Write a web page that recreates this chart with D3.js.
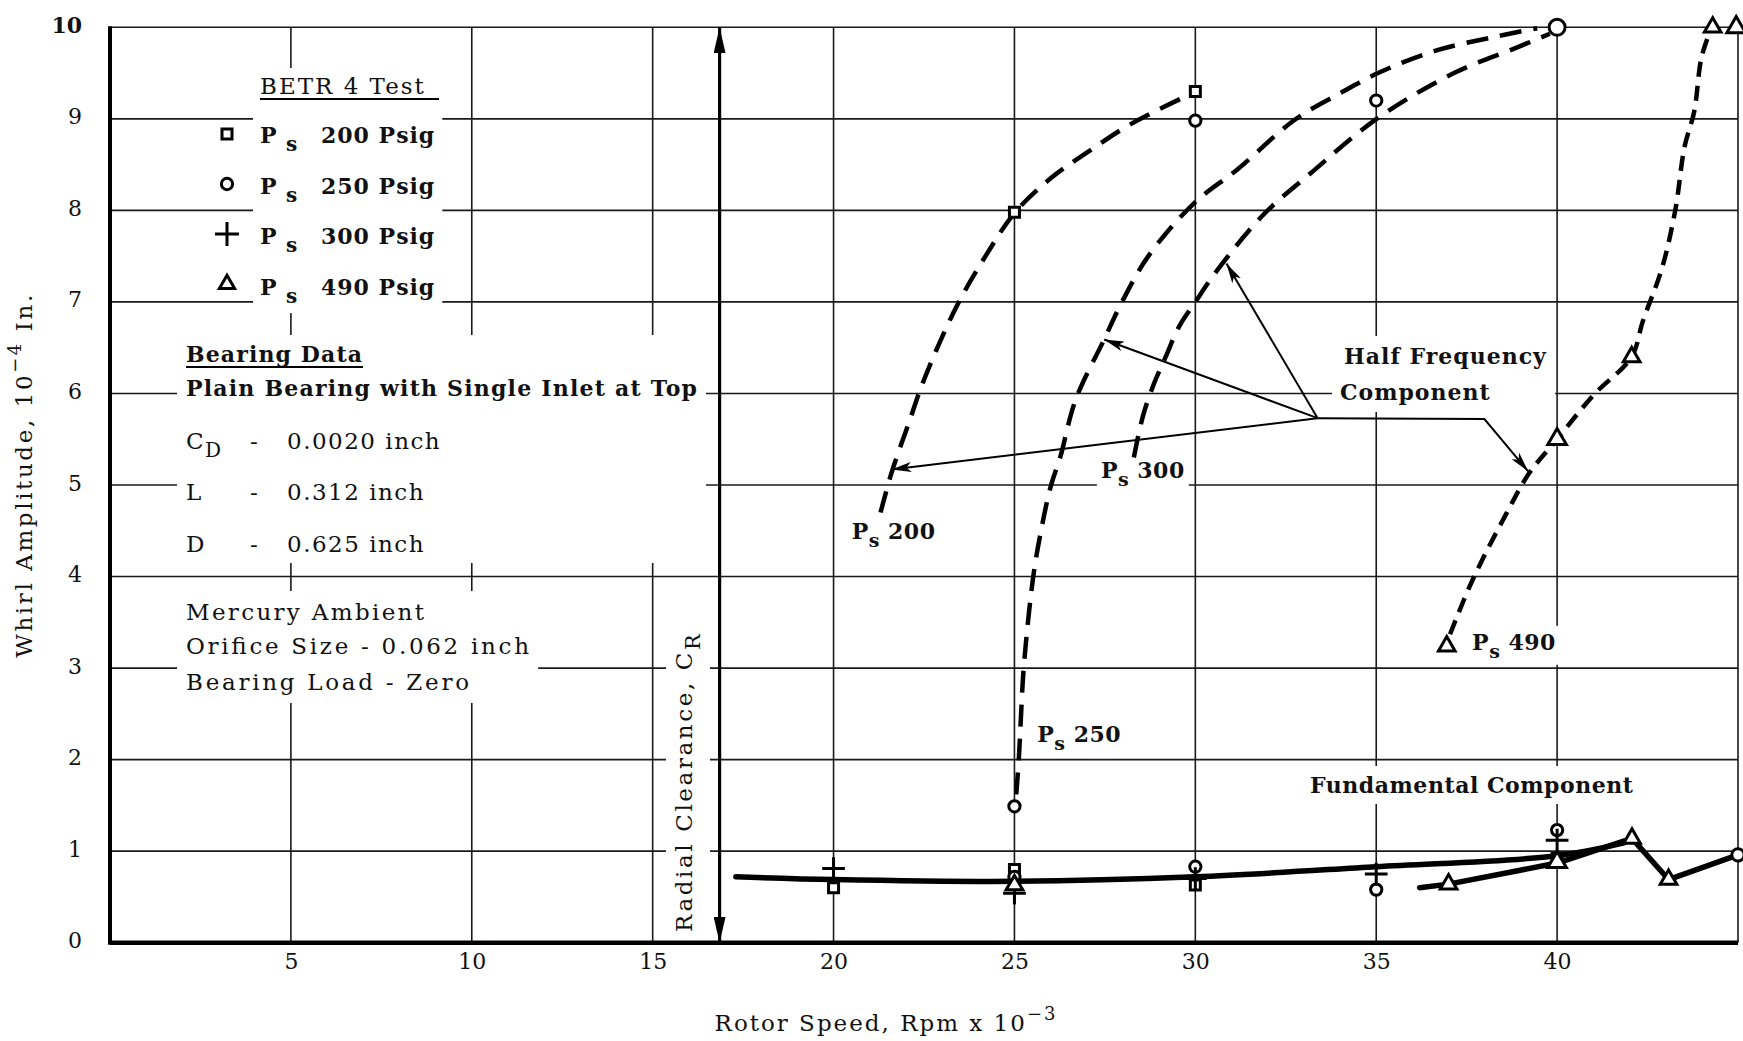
<html>
<head>
<meta charset="utf-8">
<title>Whirl Amplitude vs Rotor Speed</title>
<script src="https://d3js.org/d3.v7.min.js"></script>
<style>
body { margin: 0; background: #fff; }
.grid line { stroke: #1a1a1a; stroke-width: 1.6; }
.tick text { font-family: "DejaVu Serif", serif; font-size: 22px; fill: #111; }
.plain { font-family: "DejaVu Serif", serif; font-size: 23px; fill: #111; }
.wide { font-family: "DejaVu Serif", serif; font-size: 23px; fill: #111; letter-spacing: 2px; }
.wideb { font-family: "DejaVu Serif", serif; font-size: 22px; font-weight: bold; fill: #111; letter-spacing: 1px; }
.condb { font-family: "DejaVu Serif", serif; font-size: 22px; font-weight: bold; fill: #111; }
.half { fill: none; stroke: #000; stroke-width: 4.5; }
.fund { fill: none; stroke: #000; stroke-width: 5.5; stroke-linecap: round; }
.mark { fill: #fff; stroke: #000; stroke-width: 3; }
.note { fill: none; stroke: #000; stroke-width: 2; }
</style>
</head>
<body>
<script>
// ---- data (Rotor speed in rpm x 1e-3, whirl amplitude in 1e-4 in.) ----
var xTicks = [5, 10, 15, 20, 25, 30, 35, 40];
var yTicks = [0, 1, 2, 3, 4, 5, 6, 7, 8, 9, 10];
var gridX = [5, 10, 15, 20, 25, 30, 35, 40, 45];
var gridY = [1, 2, 3, 4, 5, 6, 7, 8, 9, 10];

// half frequency component curves
var ps200Half = [[21.3, 4.7], [21.6, 5.13], [22.1, 5.7], [22.5, 6.15], [23.4, 6.95], [24.2, 7.5], [25, 7.97],
  [26, 8.35], [27, 8.63], [28.2, 8.94], [29.6, 9.22]];
var ps250Half = [[25.05, 1.62], [25.12, 2.0], [25.18, 2.47], [25.26, 3.02], [25.52, 4.0], [25.74, 4.51], [26.0, 4.98],
  [26.27, 5.31], [26.69, 5.93], [27.48, 6.59], [27.96, 6.99], [28.7, 7.5], [29.97, 8.08], [31.17, 8.45],
  [32.75, 8.99], [34.0, 9.28], [35.05, 9.5], [36.6, 9.74], [38.2, 9.89], [39.45, 9.99]];
var ps300Half = [[28.3, 5.3], [28.55, 5.75], [28.85, 6.1], [29.18, 6.4], [29.55, 6.73], [30.0, 7.0], [30.65, 7.37],
  [31.9, 7.96], [33.17, 8.4], [35.05, 9.01], [37.15, 9.5], [38.83, 9.77], [39.8, 9.93]];
var ps490Half = [[37.04, 3.37], [37.66, 3.96], [38.6, 4.69], [39.23, 5.13], [40, 5.5], [41, 5.98], [42.06, 6.4],
  [42.37, 6.79], [42.9, 7.37], [43.27, 8.01], [43.52, 8.69], [43.79, 9.08], [43.99, 9.67], [44.25, 9.98]];

// fundamental component
var fundMain = [[17.3, 0.72], [20, 0.69], [25, 0.67], [30, 0.72], [35, 0.83], [40, 0.95], [41.85, 1.09]];
var fund490 = [[36.2, 0.6], [37, 0.64], [40, 0.87], [42.07, 1.14], [43.08, 0.69], [45, 0.96]];

// test points
var squarePts = [[20, 0.6], [25, 0.8], [30, 0.63], [40, 0.92], [25, 7.98], [30, 9.3]];
var circlePts = [[25, 0.72], [30, 0.83], [35, 0.58], [40, 1.23], [25, 1.49], [30, 8.98], [35, 9.2]];
var bigCirclePts = [[40, 10]];
var plusPts = [[20, 0.81], [25, 0.54], [30, 0.7], [35, 0.75], [40, 1.12]];
var trianglePts = [[25, 0.63], [37, 0.64], [42.07, 1.14], [43.08, 0.69], [36.95, 3.24], [42.06, 6.4], [44.3, 10.0]];
var filledTriPts = [[40, 5.5], [40, 0.88], [44.95, 10.0]];
var dotPts = [[45, 0.96]];

// radial clearance span and "Half Frequency Component" pointers
var clearance = [[16.85, 0], [16.85, 10]];
var hub = [33.38, 5.73];
var pointerTips = [[21.6, 5.17], [27.48, 6.59], [30.86, 7.42]];
var pointer490 = [[33.38, 5.73], [37.99, 5.72], [39.2, 5.15]];

var legendNames = ["200 Psig", "250 Psig", "300 Psig", "490 Psig"];
var legendSymbols = ["square", "circle", "plus", "triangle"];

// ---- layout ----
var W = 1743, H = 1041;
var x = d3.scaleLinear().domain([0, 45]).range([110, 1738]);
var y = d3.scaleLinear().domain([0, 10]).range([942.7, 27.3]);

var svg = d3.select("body").append("svg")
    .attr("width", W).attr("height", H);

var defs = svg.append("defs");
defs.append("marker").attr("id", "arr")
    .attr("viewBox", "0 0 20 10").attr("refX", 20).attr("refY", 5)
    .attr("markerWidth", 20).attr("markerHeight", 10)
    .attr("markerUnits", "userSpaceOnUse").attr("orient", "auto")
  .append("path").attr("d", "M0,0 L20,5 L0,10 L5,5 Z").attr("fill", "#000");
defs.append("marker").attr("id", "arrBig")
    .attr("viewBox", "0 0 26 12").attr("refX", 26).attr("refY", 6)
    .attr("markerWidth", 26).attr("markerHeight", 12)
    .attr("markerUnits", "userSpaceOnUse").attr("orient", "auto-start-reverse")
  .append("path").attr("d", "M0,0 L26,6 L0,12 Z").attr("fill", "#000");

// grid
var grid = svg.append("g").attr("class", "grid");
grid.selectAll(".gx").data(gridX).enter().append("line")
    .attr("x1", function(d) { return x(d); }).attr("x2", function(d) { return x(d); })
    .attr("y1", y(0)).attr("y2", y(10));
grid.selectAll(".gy").data(gridY).enter().append("line")
    .attr("x1", x(0)).attr("x2", x(45))
    .attr("y1", function(d) { return y(d); }).attr("y2", function(d) { return y(d); });

// text helpers
function rich(sel, px, py, parts, cls) {
  var t = sel.append("text").attr("x", px).attr("y", py).attr("class", cls);
  var shift = 0;
  parts.forEach(function(p) {
    var off = p.sub ? 8 : (p.sup ? -11 : 0);
    var ts = t.append("tspan").attr("dy", off - shift).text(p.t);
    if (p.size) ts.attr("font-size", p.size);
    if (p.x != null) ts.attr("x", p.x);
    shift = off;
  });
  return t;
}
function fit(sel, px, py, str, cls, len) {
  return sel.append("text").attr("class", cls).attr("x", px).attr("y", py)
      .attr("textLength", len).attr("lengthAdjust", "spacing").text(str);
}
function whiteBox(g, padX, padY) {
  var b = g.node().getBBox();
  g.insert("rect", ":first-child")
      .attr("x", b.x - padX).attr("y", b.y - padY)
      .attr("width", b.width + 2 * padX).attr("height", b.height + 2 * padY)
      .attr("fill", "#fff");
}

// legend block
var leg = svg.append("g");
var legText = leg.append("g");
legText.append("text").attr("class", "wide").attr("x", 260).attr("y", 94).text("BETR 4 Test");
legendNames.forEach(function(n, i) {
  var by = 143 + i * 50.7;
  rich(legText, 260, by, [{t: "P"}, {t: "s", sub: true, size: 20, x: 286}, {t: n, x: 321}], "wideb")
      .attr("font-size", 24);
});
whiteBox(legText, 7, 5);
legText.append("line").attr("x1", 260).attr("x2", 439).attr("y1", 99).attr("y2", 99)
    .attr("stroke", "#000").attr("stroke-width", 1.8);

// bearing data block
var bear = svg.append("g");
fit(bear, 186, 362, "Bearing Data", "condb", 176);
fit(bear, 186, 396, "Plain Bearing with Single Inlet at Top", "condb", 511);
rich(bear, 186, 449, [{t: "C"}, {t: "D", sub: true, size: 20}, {t: "-", x: 250}, {t: "0.0020 inch", x: 287}], "plain")
    .style("letter-spacing", "1.5px");
rich(bear, 186, 500, [{t: "L"}, {t: "-", x: 250}, {t: "0.312  inch", x: 287}], "plain")
    .style("letter-spacing", "1.5px");
rich(bear, 186, 552, [{t: "D"}, {t: "-", x: 250}, {t: "0.625 inch", x: 287}], "plain")
    .style("letter-spacing", "1.5px");
whiteBox(bear, 9, 6);
bear.append("line").attr("x1", 186).attr("x2", 363).attr("y1", 367).attr("y2", 367)
    .attr("stroke", "#000").attr("stroke-width", 1.8);

// conditions block
var cond = svg.append("g");
fit(cond, 186, 620, "Mercury Ambient", "plain", 238);
fit(cond, 186, 654, "Orifice Size - 0.062 inch", "plain", 343);
fit(cond, 186, 690, "Bearing Load - Zero", "plain", 283);
whiteBox(cond, 9, 8);

// in-plot labels
var halfLab = svg.append("g");
halfLab.append("text").attr("class", "wideb").attr("x", 1344).attr("y", 364).text("Half Frequency");
halfLab.append("text").attr("class", "wideb").attr("x", 1340).attr("y", 400).text("Component");
whiteBox(halfLab, 8, 7);

var fundLab = svg.append("g");
fit(fundLab, 1310, 793, "Fundamental Component", "condb", 323);
whiteBox(fundLab, 6, 6);

var curveLabels = [["200", 20.5, 4.41], ["300", 27.39, 5.08], ["250", 25.63, 2.19], ["490", 37.65, 3.2]];
curveLabels.forEach(function(c) {
  var g = svg.append("g");
  rich(g, x(c[1]), y(c[2]), [{t: "P"}, {t: "s", sub: true, size: 19}, {t: " " + c[0]}], "wideb")
      .attr("font-size", 21).style("letter-spacing", "0.5px");
  whiteBox(g, 4, 3);
});

var radial = svg.append("g");
rich(radial, 0, 0, [{t: "Radial  Clearance,  C"}, {t: "R", sub: true, size: 21}], "plain")
    .style("letter-spacing", "2.6px")
    .attr("transform", "translate(692,932) rotate(-90)");
whiteBox(radial, 5, 6);

// axes
svg.append("g").attr("transform", "translate(0," + y(0) + ")")
    .call(d3.axisBottom(x).tickValues(xTicks).tickSize(0).tickPadding(11).tickFormat(d3.format("d")))
    .call(function(g) { g.select(".domain").remove(); });
svg.append("g").attr("transform", "translate(" + x(0) + ",0)")
    .call(d3.axisLeft(y).tickValues(yTicks).tickSize(0).tickPadding(28).tickFormat(d3.format("d")))
    .call(function(g) {
      g.select(".domain").remove();
      g.selectAll("text").attr("y", -2)
          .attr("font-weight", function(d) { return d === 10 ? "bold" : null; });
    });
svg.append("line").attr("x1", x(0)).attr("x2", x(45)).attr("y1", y(0)).attr("y2", y(0))
    .attr("stroke", "#000").attr("stroke-width", 4.5);
svg.append("line").attr("x1", x(0)).attr("x2", x(0)).attr("y1", y(10) - 1).attr("y2", y(0) + 2)
    .attr("stroke", "#000").attr("stroke-width", 4);

// axis titles
rich(svg, 0, 0, [{t: "Whirl Amplitude,  10"}, {t: "\u22124", sup: true, size: 18}, {t: " In."}], "wide")
    .attr("text-anchor", "middle").attr("font-size", 22).style("letter-spacing", "2.6px")
    .attr("transform", "translate(32,475) rotate(-90)");
rich(svg, 886, 1031, [{t: "Rotor Speed,  Rpm x 10"}, {t: "\u22123", sup: true, size: 18}], "wide")
    .attr("text-anchor", "middle").attr("font-size", 22);

// radial clearance arrow
var line = d3.line().x(function(d) { return x(d[0]); }).y(function(d) { return y(d[1]); });
svg.append("path").datum(clearance).attr("d", line)
    .attr("stroke", "#000").attr("stroke-width", 3.2).attr("fill", "none")
    .attr("marker-start", "url(#arrBig)").attr("marker-end", "url(#arrBig)");

// curves
var curve = d3.line().curve(d3.curveCatmullRom.alpha(0.5))
    .x(function(d) { return x(d[0]); }).y(function(d) { return y(d[1]); });
[ps200Half, ps250Half, ps300Half].forEach(function(s) {
  svg.append("path").datum(s).attr("class", "half").attr("d", curve).attr("stroke-dasharray", "22,12");
});
svg.append("path").datum(ps490Half).attr("class", "half").attr("d", curve).attr("stroke-dasharray", "15,9");
svg.append("path").datum(fundMain).attr("class", "fund").attr("d", curve);
svg.append("path").datum(fund490).attr("class", "fund").attr("d", line).attr("stroke-linejoin", "round");

// pointers
pointerTips.forEach(function(t) {
  svg.append("path").datum([hub, t]).attr("class", "note").attr("d", line).attr("marker-end", "url(#arr)");
});
svg.append("path").datum(pointer490).attr("class", "note").attr("d", line).attr("marker-end", "url(#arr)");

// markers
var plusType = d3.symbolPlus || d3.symbolCross;
function markers(pts, type, size, cls, fill) {
  svg.append("g").selectAll("path").data(pts).enter().append("path")
      .attr("class", cls)
      .attr("transform", function(d) { return "translate(" + x(d[0]) + "," + y(d[1]) + ")"; })
      .attr("d", d3.symbol().type(type).size(size))
      .attr("fill", fill);
}
markers(squarePts, d3.symbolSquare, 100, "mark", "#fff");
markers(circlePts, d3.symbolCircle, 100, "mark", "#fff");
markers(bigCirclePts, d3.symbolCircle, 200, "mark", "#fff");
markers(plusPts, plusType, 170, "mark", "none");
markers(trianglePts, d3.symbolTriangle, 120, "mark", "#fff");
markers(filledTriPts, d3.symbolTriangle, 150, "mark", "#000");
markers(dotPts, d3.symbolCircle, 120, "mark", "#000");

// legend markers
var legMarks = {square: d3.symbolSquare, circle: d3.symbolCircle, plus: plusType, triangle: d3.symbolTriangle};
leg.selectAll(".lm").data(legendSymbols).enter().append("path")
    .attr("class", "mark")
    .attr("transform", function(d, i) { return "translate(227," + (134 + i * 50) + ")"; })
    .attr("d", function(d) { return d3.symbol().type(legMarks[d]).size(d === "plus" ? 190 : 100)(); })
    .attr("fill", function(d) { return d === "plus" ? "none" : "#fff"; })
    .attr("stroke-width", 3.2);
</script>
</body>
</html>
